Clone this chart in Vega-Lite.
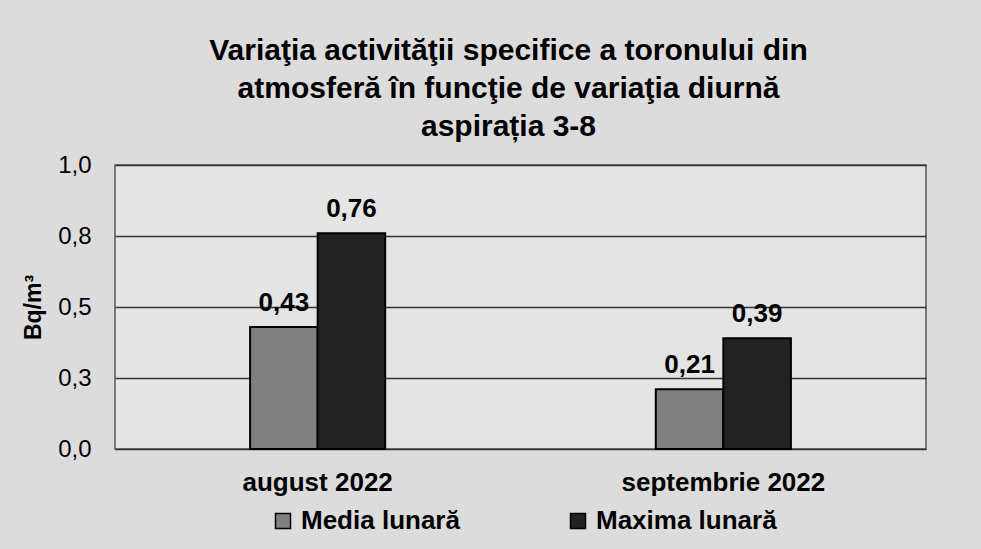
{
  "$schema": "https://vega.github.io/schema/vega-lite/v6.json",
  "width": 811,
  "height": 284,
  "autosize": {"type": "none"},
  "padding": {"left": 115, "top": 165, "right": 55, "bottom": 100},
  "background": "#dcdcdc",
  "title": {
    "text": ["Variaţia activităţii specifice a toronului din", "atmosferă în funcţie de variaţia diurnă", "aspirația 3-8"],
    "fontSize": 30,
    "fontWeight": "bold",
    "lineHeight": 38,
    "anchor": "middle",
    "frame": "group",
    "dx": -12,
    "offset": 11,
    "color": "black"
  },
  "data": {
    "values": [
      {"luna": "august 2022", "serie": "Media lunară", "valoare": 0.43},
      {"luna": "august 2022", "serie": "Maxima lunară", "valoare": 0.76},
      {"luna": "septembrie 2022", "serie": "Media lunară", "valoare": 0.21},
      {"luna": "septembrie 2022", "serie": "Maxima lunară", "valoare": 0.39}
    ]
  },
  "encoding": {
    "x": {
      "field": "luna",
      "type": "nominal",
      "sort": ["august 2022", "septembrie 2022"],
      "scale": {"paddingInner": 0.667, "paddingOuter": 0.333},
      "axis": {
        "title": null,
        "labelAngle": 0,
        "labelFontSize": 26,
        "labelFontWeight": "bold",
        "labelColor": "black",
        "labelPadding": 20,
        "labelLimit": 0,
        "ticks": false,
        "domain": false
      }
    },
    "xOffset": {
      "field": "serie",
      "type": "nominal",
      "sort": ["Media lunară", "Maxima lunară"],
      "scale": {"paddingInner": 0, "paddingOuter": 0}
    }
  },
  "layer": [
    {
      "mark": {"type": "bar", "stroke": "black", "strokeWidth": 2},
      "encoding": {
        "y": {
          "field": "valoare",
          "type": "quantitative",
          "scale": {"domain": [0, 1]},
          "axis": {
            "values": [0, 0.25, 0.5, 0.75, 1],
            "format": ".1f",
            "labelFontSize": 24,
            "labelColor": "black",
            "labelPadding": 24,
            "ticks": false,
            "domain": false,
            "grid": true,
            "gridColor": "#333333",
            "gridWidth": 1.3,
            "title": "Bq/m³",
            "titleFontSize": 23,
            "titleFontWeight": "bold",
            "titleColor": "black",
            "titlePadding": 12
          }
        },
        "color": {
          "field": "serie",
          "type": "nominal",
          "scale": {"domain": ["Media lunară", "Maxima lunară"], "range": ["#808080", "#222222"]},
          "legend": {
            "title": null,
            "orient": "none",
            "legendX": 155,
            "legendY": 343,
            "direction": "horizontal",
            "symbolType": "square",
            "symbolSize": 225,
            "symbolStrokeColor": "black",
            "symbolStrokeWidth": 1.5,
            "symbolOpacity": 1,
            "labelFontSize": 26,
            "labelFontWeight": "bold",
            "labelColor": "black",
            "labelOffset": 5,
            "labelLimit": 0,
            "columnPadding": 105,
            "padding": 0
          }
        }
      }
    },
    {
      "mark": {"type": "text", "dy": -16, "baseline": "alphabetic", "fontSize": 26, "fontWeight": "bold", "color": "black"},
      "encoding": {
        "y": {"field": "valoare", "type": "quantitative"},
        "text": {"field": "valoare", "type": "quantitative", "format": ".2f"}
      }
    }
  ],
  "config": {
    "font": "Liberation Sans",
    "locale": {"number": {"decimal": ",", "thousands": ".", "grouping": [3], "currency": ["", " lei"]}},
    "view": {"fill": "#e4e4e4", "stroke": "#555555", "strokeWidth": 1.5}
  }
}
